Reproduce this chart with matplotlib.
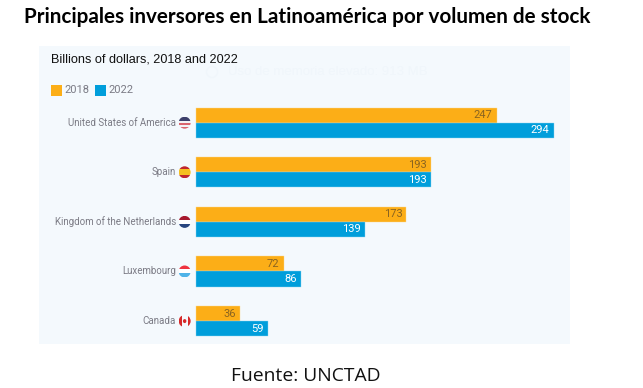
import matplotlib
matplotlib.use("Agg")
import matplotlib.pyplot as plt
from matplotlib.patches import Ellipse, Rectangle

countries = ["United States of America", "Spain", "Kingdom of the Netherlands", "Luxembourg", "Canada"]
years = ["2018", "2022"]
values_2018 = [247, 193, 173, 72, 36]
values_2022 = [294, 193, 139, 86, 59]
flag_colors = [
    ["#3c3f6b", "#3c3f6b", "#f2f2f5", "#d9646e", "#f2f2f5", "#d9646e"],
    ["#c0262d", "#f5c020", "#f5c020", "#c0262d"],
    ["#a6192e", "#ffffff", "#27457f"],
    ["#ef3340", "#ffffff", "#4fb3e8"],
    ["#f4f9fd", "#f4f9fd", "#f4f9fd"],
]

ORANGE = "#fcae17"
BLUE = "#009edb"
PANEL = "#f4f9fd"
GREY = "#7b7b85"
RED = "#d62a2a"
SX = 1.2167  # px per unit
SY = 49.6  # px per row
X0, Y0 = -129.0, -1.546

fig = plt.figure(figsize=(6.43, 3.88), dpi=100, facecolor="white")
W, H = 643, 388
ax = fig.add_axes([39 / W, 1 - 344 / H, (570 - 39) / W, (344 - 46) / H])
ax.set_facecolor(PANEL)
for s in ax.spines.values():
    s.set_visible(False)
ax.tick_params(left=False, bottom=False, labelleft=False, labelbottom=False)

ax.set_xlim(X0, 307.4)
ax.set_ylim(4.462, Y0)

bar_h = 0.305
for i in range(len(countries)):
    ax.barh(i - bar_h / 2, values_2018[i], height=bar_h, color=ORANGE, edgecolor="#fdd98f", linewidth=0.3)
    ax.barh(i + bar_h / 2, values_2022[i], height=bar_h, color=BLUE, edgecolor="#8fd3f0", linewidth=0.3)
    ax.text(values_2018[i] - 3.3, i - bar_h / 2, str(values_2018[i]), ha="right", va="center",
            fontsize=8, family="Roboto", color="#8a6420")
    ax.text(values_2022[i] - 3.3, i + bar_h / 2, str(values_2022[i]), ha="right", va="center",
            fontsize=8, family="Roboto", color="white")
    ax.text(-16.5, i, countries[i], ha="right", va="center", fontsize=7.0, family="Roboto", color=GREY)

    # round flag left of the bars
    cx, w, h = -9.3, 12 / SX, 12 / SY
    clip = Ellipse((cx, i), w, h, transform=ax.transData)
    stripes = flag_colors[i]
    for k, c in enumerate(stripes):
        r = Rectangle((cx - w / 2, i - h / 2 + k * h / len(stripes)), w, h / len(stripes), color=c, linewidth=0)
        ax.add_patch(r)
        r.set_clip_path(clip)
    if countries[i] == "Canada":
        for bx in [cx - w / 2, cx + w / 4]:
            r = Rectangle((bx, i - h / 2), w / 4, h, color=RED, linewidth=0)
            ax.add_patch(r)
            r.set_clip_path(clip)
        ax.add_patch(Ellipse((cx, i), w / 3.5, h / 3, color=RED, linewidth=0))

ax.text(X0 + 12 / SX, Y0 + 13.5 / SY, "Billions of dollars, 2018 and 2022", ha="left", va="center",
        fontsize=9.1, family="Liberation Sans", color="#111111")

# very faint leftover text of the screenshot
ax.text(X0 + (228 - 39) / SX, Y0 + 26 / SY, "Uso de memoria elevado: 913 MB", ha="left", va="center",
        fontsize=9.5, family="Liberation Sans", color="#f0f6fb")
ax.add_patch(Ellipse((X0 + (212 - 39) / SX, Y0 + 26 / SY), 11 / SX, 11 / SY, fill=False, edgecolor="#f0f6fb", linewidth=1))

# legend
for x0, c, y in zip([51, 95], [ORANGE, BLUE], years):
    ax.add_patch(Rectangle((X0 + (x0 - 39) / SX, Y0 + 39 / SY), 11 / SX, 10.5 / SY, color=c, linewidth=0))
    ax.text(X0 + (x0 + 13 - 39) / SX, Y0 + 44 / SY, y, ha="left", va="center",
            fontsize=8, family="Roboto", color=GREY)

fig.text(307 / W, 1 - 17 / H, "Principales inversores en Latinoamérica por volumen de stock", ha="center", va="center",
         fontsize=14.9, fontweight="bold", family="Lato", color="black")
fig.text(306 / W, 1 - 376 / H, "Fuente: UNCTAD", ha="center", va="center", fontsize=13.9, family="Open Sans", color="#111111")

fig.savefig("out.png", dpi=100)
